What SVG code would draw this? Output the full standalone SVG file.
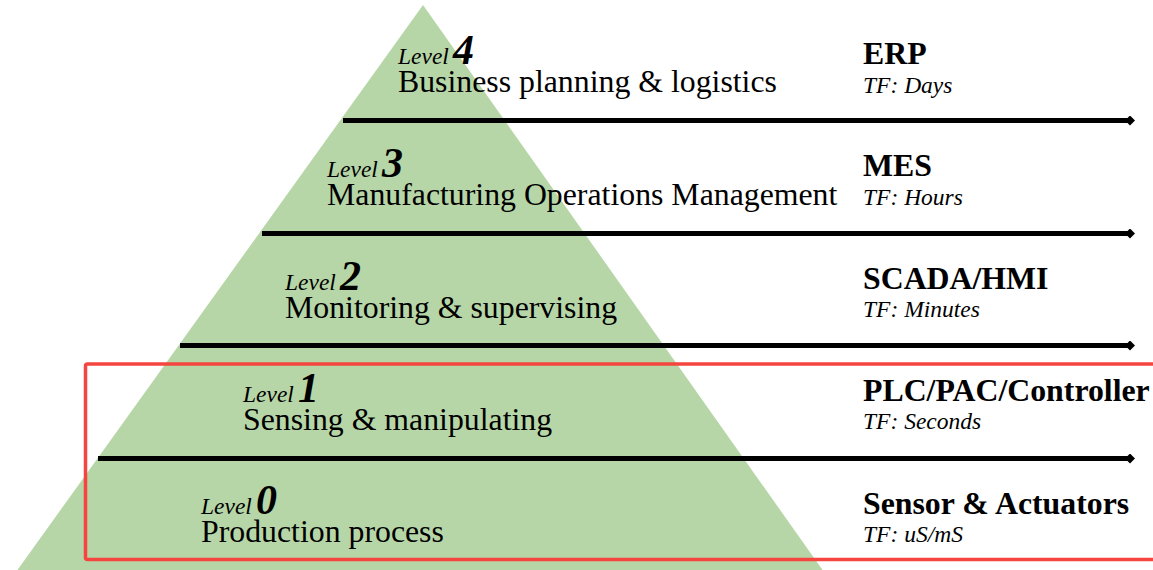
<svg xmlns="http://www.w3.org/2000/svg" width="1153" height="570" viewBox="0 0 1153 570">
  <defs>
    <marker id="tip" viewBox="0 0 10 10" refX="5" refY="5" markerWidth="2" markerHeight="2" orient="auto" markerUnits="strokeWidth">
      <path d="M0,5 L5,0 L10,5 L5,10 Z" fill="#000"/>
    </marker>
    <style>
      .pyr { fill: #b7d6a7; }
      .tier { stroke: #000; stroke-width: 5; fill: none; marker-end: url(#tip); }
      .frame { fill: none; stroke: #f4453e; stroke-width: 3.5; }
      .lvl { font-family: "Liberation Serif", "Times New Roman", serif; font-style: italic; font-size: 23.5px; fill: #000; }
      .num { font-family: "Liberation Serif", "Times New Roman", serif; font-style: italic; font-weight: bold; font-size: 42px; fill: #000; }
      .name { font-family: "Liberation Serif", "Times New Roman", serif; font-size: 31.8px; fill: #000; }
      .sys { font-family: "Liberation Serif", "Times New Roman", serif; font-weight: bold; font-size: 31.8px; fill: #000; }
      .tf { font-family: "Liberation Serif", "Times New Roman", serif; font-style: italic; font-size: 23.5px; fill: #000; }
    </style>
  </defs>

  <!-- pyramid background -->
  <polygon class="pyr" points="423,5 16,572 824,572"/>

  <!-- tier separators -->
  <g id="connectors">
    <line class="tier" x1="343" y1="120.5" x2="1130" y2="120.5"/>
    <line class="tier" x1="262" y1="233.5" x2="1130" y2="233.5"/>
    <line class="tier" x1="180" y1="345.5" x2="1130" y2="345.5"/>
    <line class="tier" x1="98" y1="458.5" x2="1130" y2="458.5"/>
  </g>

  <!-- highlight frame around levels 0 and 1 -->
  <rect class="frame" x="85.5" y="364" width="1080" height="195.5" rx="2"/>

  <g id="level4">
    <text class="lvl" x="398" y="64">Level</text>
    <text class="num" x="453" y="64">4</text>
    <text class="name" x="398" y="92">Business planning &amp; logistics</text>
    <text class="sys" x="863" y="64">ERP</text>
    <text class="tf" x="863" y="93">TF: Days</text>
  </g>

  <g id="level3">
    <text class="lvl" x="327" y="177">Level</text>
    <text class="num" x="382" y="177">3</text>
    <text class="name" x="327" y="205">Manufacturing Operations Management</text>
    <text class="sys" x="863" y="176">MES</text>
    <text class="tf" x="863" y="205">TF: Hours</text>
  </g>

  <g id="level2">
    <text class="lvl" x="285" y="290">Level</text>
    <text class="num" x="340" y="290">2</text>
    <text class="name" x="285" y="318">Monitoring &amp; supervising</text>
    <text class="sys" x="863" y="289">SCADA/HMI</text>
    <text class="tf" x="863" y="317">TF: Minutes</text>
  </g>

  <g id="level1">
    <text class="lvl" x="243" y="402">Level</text>
    <text class="num" x="298" y="402">1</text>
    <text class="name" x="243" y="430">Sensing &amp; manipulating</text>
    <text class="sys" x="863" y="401">PLC/PAC/Controller</text>
    <text class="tf" x="863" y="429">TF: Seconds</text>
  </g>

  <g id="level0">
    <text class="lvl" x="201" y="514">Level</text>
    <text class="num" x="256" y="514">0</text>
    <text class="name" x="201" y="542">Production process</text>
    <text class="sys" x="863" y="514">Sensor &amp; Actuators</text>
    <text class="tf" x="863" y="542">TF: uS/mS</text>
  </g>
</svg>
